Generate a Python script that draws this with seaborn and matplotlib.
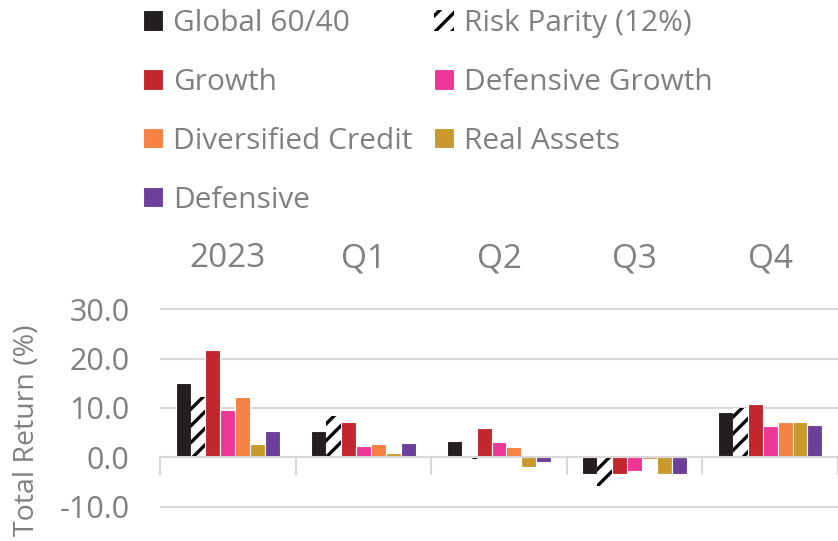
import numpy as np
import pandas as pd
import matplotlib
matplotlib.use("Agg")
import matplotlib.pyplot as plt
import seaborn as sns

# data
periods = ["2023", "Q1", "Q2", "Q3", "Q4"]
series = ["Global 60/40", "Risk Parity (12%)", "Growth", "Defensive Growth",
          "Diversified Credit", "Real Assets", "Defensive"]

global_6040 = [15.0, 5.4, 3.2, -3.5, 9.1]
risk_parity = [12.3, 8.4, -0.3, -5.8, 10.0]
growth = [21.8, 7.1, 5.9, -3.5, 10.8]
defensive_growth = [9.6, 2.3, 3.0, -2.7, 6.4]
diversified_credit = [12.2, 2.6, 2.0, -0.3, 7.2]
real_assets = [2.7, 0.9, -2.0, -3.4, 7.2]
defensive = [5.4, 2.8, -1.0, -3.4, 6.6]

colors = ["#231F20", "#FFFFFF", "#C1272D", "#EC3796",
          "#F58142", "#C9992D", "#6C3F99"]

values = [global_6040, risk_parity, growth, defensive_growth,
          diversified_credit, real_assets, defensive]

rows = []
for name, vals in zip(series, values):
    for p, v in zip(periods, vals):
        rows.append({"Period": p, "Series": name, "Return": v})
df = pd.DataFrame(rows)

sns.set_style("white")
plt.rcParams["font.family"] = ["Open Sans", "DejaVu Sans"]
plt.rcParams["hatch.linewidth"] = 2.4

grey = "#808080"
grid = "#D9D9D9"

fig = plt.figure(figsize=(8.38, 5.41), dpi=100)
ax = fig.add_axes([160 / 838, 0.0, 1 - 160 / 838, 241.5 / 541])

sns.barplot(data=df, x="Period", y="Return", hue="Series",
            hue_order=series, order=periods, palette=colors,
            width=0.77, ax=ax, legend=False, saturation=1)

for cont, name in zip(ax.containers, series):
    for bar in cont:
        if name == "Risk Parity (12%)":
            bar.set_hatch("//")
            bar.set_edgecolor("black")
            bar.set_linewidth(0)
        else:
            bar.set_edgecolor("white")
            bar.set_linewidth(0.8)

ax.set_ylim(-17.0, 32.0)
ax.set_xlim(-0.5, -0.5 + 678 / 137.6)
ax.set_yticks([-10, 0, 10, 20, 30])
ax.set_yticklabels([f"{t:.1f}" for t in [-10, 0, 10, 20, 30]])
ax.yaxis.grid(True, color=grid, linewidth=1.5)
ax.set_axisbelow(True)

for s in ["top", "right", "left"]:
    ax.spines[s].set_visible(False)
ax.spines["bottom"].set_position(("data", 0))
ax.spines["bottom"].set_color(grid)
ax.spines["bottom"].set_linewidth(1.5)

ax.xaxis.set_ticks_position("both")
ax.tick_params(axis="x", which="major", bottom=False, top=False,
               labelbottom=False, labeltop=True, pad=14,
               labelsize=24, labelcolor=grey)
ax.set_xticks(np.arange(len(periods) + 1) - 0.5, minor=True)
ax.tick_params(axis="x", which="minor", bottom=True, top=False,
               length=13, width=1.5, color=grid)
ax.tick_params(axis="y", length=0, pad=22, labelsize=22, labelcolor=grey)

ax.set_xlabel("")
ax.set_ylabel("")
fig.text(27 / 838, 1 - 430 / 541, "Total Return (%)", rotation=90,
         ha="center", va="center", fontsize=20.5, color=grey)

# legend filled column by column, so reorder to read row by row
handles = [c.patches[0] for c in ax.containers]
order = [0, 2, 4, 6, 1, 3, 5]
fig.legend([handles[i] for i in order], [series[i] for i in order],
           ncol=2, loc="upper left", bbox_to_anchor=(143 / 838, 1 - 9 / 541),
           frameon=False, fontsize=21.5, labelcolor=grey, borderpad=0,
           handlelength=0.67, handleheight=0.67, handletextpad=0.33,
           columnspacing=0.73, labelspacing=1.0, borderaxespad=0)

plt.savefig("out.png", dpi=100)
